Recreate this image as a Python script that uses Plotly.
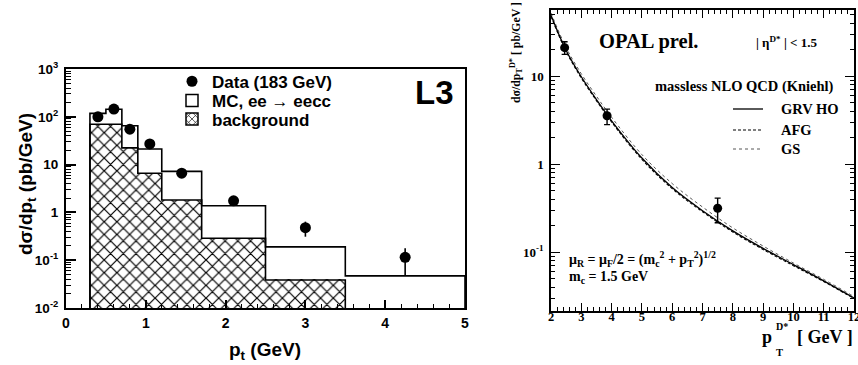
import numpy as np
import plotly.graph_objects as go

# ---------------- data: L3 panel ----------------
bin_edges = [0.3, 0.5, 0.7, 0.9, 1.2, 1.7, 2.5, 3.5, 5.0]
mc_eecc = [118, 144, 65, 21.2, 7.2, 1.38, 0.19, 0.047]          # MC, ee -> eecc (pb/GeV)
background = [70, 70, 22.4, 6.6, 1.82, 0.287, 0.0386, None]       # background (pb/GeV)
data_pt = [0.4, 0.6, 0.8, 1.05, 1.45, 2.1, 3.0, 4.25]
data_xs = [100, 145, 55, 27, 6.6, 1.75, 0.48, 0.115]
data_err_up = [8, 10, 5, 3, 0.8, 0.25, 0.16, 0.062]
data_err_dn = [8, 10, 5, 3, 0.8, 0.25, 0.17, 0.066]
left_tickvals = [0.01, 0.1, 1, 10, 100, 1000]
left_ticktext = ["10<sup>-2</sup>", "10<sup>-1</sup>", "1", "10", "10<sup>2</sup>", "10<sup>3</sup>"]

# ---------------- data: OPAL panel ----------------
opal_pt = [2.45, 3.85, 7.5]
opal_xs = [21.0, 3.54, 0.314]
opal_err_up = [3.5, 0.66, 0.096]
opal_err_dn = [3.4, 0.74, 0.099]
theory_pt = [2, 2.5, 3, 3.5, 4, 5, 6, 7, 8, 9, 10, 11, 12]
grv_ho = [49, 19.5, 9.8, 5.4, 3.1, 1.17, 0.54, 0.295, 0.174, 0.110, 0.072, 0.047, 0.030]
afg = [47.5, 19.0, 9.5, 5.25, 3.0, 1.13, 0.525, 0.287, 0.169, 0.107, 0.070, 0.0462, 0.0296]
gs = [52, 21.0, 10.6, 5.9, 3.4, 1.28, 0.60, 0.325, 0.188, 0.117, 0.075, 0.049, 0.0312]
right_xticks = [2, 3, 4, 5, 6, 7, 8, 9, 10, 11, 12]
right_tickvals = [0.1, 1, 10]
right_ticktext = ["10<sup>-1</sup>", "1", "10"]

W, H = 858, 365
SANS = "Liberation Sans, Arial, sans-serif"
SERIF = "Liberation Serif, Times New Roman, serif"
FLOOR = 1e-3   # below the visible log range, so histograms reach the axis


def px(x):
    return x / W


def py(y):
    return 1 - y / H


def step_outline(edges, values):
    """Corner points of a histogram outline, for an 'hv' line."""
    vals = [v for v in values if v is not None]
    e = list(edges[:len(vals) + 1])
    xs = [e[0]] + e[:-1] + [e[-1], e[-1]]
    ys = [FLOOR] + vals + [vals[-1], FLOOR]
    return xs, ys


edges = np.array(bin_edges)
centers = 0.5 * (edges[:-1] + edges[1:])
widths = edges[1:] - edges[:-1]

fig = go.Figure()

# MC histogram: white fill, then step outline
fig.add_trace(go.Bar(
    x=centers, y=mc_eecc, width=widths, base=FLOOR,
    marker=dict(color="white", line=dict(width=0)),
    showlegend=False, xaxis="x", yaxis="y",
))
mx, my = step_outline(bin_edges, mc_eecc)
fig.add_trace(go.Scatter(x=mx, y=my, mode="lines", line=dict(color="black", width=1.6, shape="hv"),
                         showlegend=False, hoverinfo="skip", xaxis="x", yaxis="y"))
# background histogram: cross-hatched fill, then step outline
fig.add_trace(go.Bar(
    x=centers, y=background, width=widths, base=FLOOR,
    marker=dict(color="white", line=dict(width=0),
                pattern=dict(shape="x", size=9, solidity=0.25,
                             fgcolor="black", bgcolor="white", fillmode="replace")),
    showlegend=False, xaxis="x", yaxis="y",
))
bx, by = step_outline(bin_edges, background)
fig.add_trace(go.Scatter(x=bx, y=by, mode="lines", line=dict(color="black", width=1.6, shape="hv"),
                         showlegend=False, hoverinfo="skip", xaxis="x", yaxis="y"))

# legend-only entries for the histograms
fig.add_trace(go.Bar(
    x=[None], y=[None],
    marker=dict(color="white", line=dict(color="black", width=1.5)),
    name="MC, ee \u2192 eecc", legend="legend2", xaxis="x", yaxis="y",
))
fig.add_trace(go.Bar(
    x=[None], y=[None],
    marker=dict(color="white", line=dict(color="black", width=1.5),
                pattern=dict(shape="x", size=6, solidity=0.25,
                             fgcolor="black", bgcolor="white", fillmode="replace")),
    name="background", legend="legend3", xaxis="x", yaxis="y",
))

# data points
fig.add_trace(go.Scatter(
    x=data_pt, y=data_xs, mode="markers",
    marker=dict(color="black", size=11),
    error_y=dict(type="data", symmetric=False, array=data_err_up,
                 arrayminus=data_err_dn, width=0, thickness=1.6, color="black"),
    name="Data (183 GeV)", legend="legend", xaxis="x", yaxis="y",
))

# NLO curves
fig.add_trace(go.Scatter(
    x=theory_pt, y=gs, mode="lines", line=dict(color="#444", width=0.9, dash="dot", shape="spline"),
    showlegend=False, xaxis="x2", yaxis="y2",
))
fig.add_trace(go.Scatter(
    x=theory_pt, y=afg, mode="lines", line=dict(color="black", width=1.1, dash="3px,2px", shape="spline"),
    showlegend=False, xaxis="x2", yaxis="y2",
))
fig.add_trace(go.Scatter(
    x=theory_pt, y=grv_ho, mode="lines", line=dict(color="black", width=1.3, shape="spline"),
    showlegend=False, xaxis="x2", yaxis="y2",
))
fig.add_trace(go.Scatter(
    x=opal_pt, y=opal_xs, mode="markers",
    marker=dict(color="black", size=9),
    error_y=dict(type="data", symmetric=False, array=opal_err_up,
                 arrayminus=opal_err_dn, width=3, thickness=1.4, color="black"),
    showlegend=False, xaxis="x2", yaxis="y2",
))

left_font = dict(family=SANS, size=14, color="black", weight="bold")
right_font = dict(family=SERIF, size=12.5, color="black", weight="bold")

legend_common = dict(font=dict(family=SANS, size=17, color="black", weight="bold"),
                     bgcolor="rgba(0,0,0,0)", borderwidth=0, xanchor="left",
                     yanchor="middle", itemwidth=30, tracegroupgap=0)

fig.update_layout(
    template="none",
    width=W, height=H,
    margin=dict(l=0, r=0, t=0, b=0, autoexpand=False),
    paper_bgcolor="white", plot_bgcolor="white",
    barmode="overlay", bargap=0,
    showlegend=True,
    legend=dict(x=px(172), y=py(81.7), **legend_common),
    legend2=dict(x=px(172), y=py(101), **legend_common),
    legend3=dict(x=px(172), y=py(119.4), **legend_common),
    xaxis=dict(
        domain=[px(66), px(465)], anchor="y", range=[0, 5], automargin=False,
        tick0=0, dtick=1, ticks="inside", ticklen=8, tickwidth=1.5, tickcolor="black",
        minor=dict(dtick=0.2, ticks="inside", ticklen=4, tickwidth=1, tickcolor="black", showgrid=False),
        showline=True, linewidth=2, linecolor="black", mirror=True,
        showgrid=False, zeroline=False, tickfont=left_font, ticklabelstandoff=1,
    ),
    yaxis=dict(
        domain=[py(308), py(69)], anchor="x", type="log", range=[-2, 3], automargin=False,
        tickmode="array", tickvals=left_tickvals, ticktext=left_ticktext,
        ticks="inside", ticklen=10, tickwidth=1.5, tickcolor="black",
        minor=dict(dtick="D1", ticks="inside", ticklen=5, tickwidth=1, tickcolor="black", showgrid=False),
        showline=True, linewidth=2, linecolor="black", mirror=True,
        showgrid=False, zeroline=False, tickfont=dict(left_font, size=13.5), ticklabelstandoff=3,
    ),
    xaxis2=dict(
        domain=[px(551), px(854)], anchor="y2", range=[2, 12], automargin=False,
        tickmode="array", tickvals=right_xticks, ticktext=[str(v) for v in right_xticks],
        ticks="inside", ticklen=8, tickwidth=1.2, tickcolor="black",
        minor=dict(tick0=2, dtick=0.2, ticks="inside", ticklen=4, tickwidth=1, tickcolor="black", showgrid=False),
        showline=True, linewidth=1.5, linecolor="black", mirror="allticks",
        showgrid=False, zeroline=False, tickfont=right_font, ticklabelstandoff=-7,
        ticklabeloverflow="allow",
    ),
    yaxis2=dict(
        domain=[py(311), py(10)], anchor="x2", type="log", range=[-1.67, 1.75], automargin=False,
        tickmode="array", tickvals=right_tickvals, ticktext=right_ticktext,
        ticks="inside", ticklen=9, tickwidth=1.2, tickcolor="black",
        minor=dict(dtick="D1", ticks="inside", ticklen=4, tickwidth=1, tickcolor="black", showgrid=False),
        showline=True, linewidth=1.5, linecolor="black", mirror="allticks",
        showgrid=False, zeroline=False, tickfont=dict(right_font, size=13), ticklabelstandoff=3,
    ),
)

ann = []
# L3 panel labels
ann.append(dict(x=px(434), y=py(92), text="L3", font=dict(family=SANS, size=33, color="black", weight="bold")))
ann.append(dict(x=px(265), y=py(351), text="p<sub>t</sub> (GeV)", font=dict(family=SANS, size=19, color="black", weight="bold")))
ann.append(dict(x=px(27), y=py(184), text="d\u03c3/dp<sub>t</sub> (pb/GeV)", textangle=-90,
                font=dict(family=SANS, size=19, color="black", weight="bold")))

# OPAL panel labels
serif_b = lambda s: dict(family=SERIF, size=s, color="black", weight="bold")
ann.append(dict(x=px(648), y=py(42), text="OPAL prel.", font=serif_b(20.5)))
ann.append(dict(x=px(786), y=py(42), text="| \u03b7<sup>D*</sup> | < 1.5", font=serif_b(13)))
ann.append(dict(x=px(836), y=py(86), text="massless NLO QCD (Kniehl)", xanchor="right", font=serif_b(14.5)))
for label, yy in [("GRV HO", 109), ("AFG", 130), ("GS", 149)]:
    ann.append(dict(x=px(779), y=py(yy), text=label, xanchor="left", font=serif_b(14.5)))
ann.append(dict(x=px(567), y=py(259),
                text="\u03bc<sub>R</sub> = \u03bc<sub>F</sub>/2 = (m<sub>c</sub><sup>2</sup> + p<sub>T</sub><sup>2</sup>)<sup>1/2</sup>",
                xanchor="left", font=serif_b(14)))
ann.append(dict(x=px(567), y=py(277), text="m<sub>c</sub> = 1.5 GeV", xanchor="left", font=serif_b(14)))
# x title of the OPAL panel, with the D* superscript stacked over the T subscript
ann.append(dict(x=px(855), y=py(337), text="[ GeV ]", xanchor="right", font=serif_b(18)))
ann.append(dict(x=px(774), y=py(337), text="p", xanchor="right", font=serif_b(18)))
ann.append(dict(x=px(774), y=py(352), text="T", xanchor="left", font=serif_b(10.5)))
ann.append(dict(x=px(774), y=py(326), text="D*", xanchor="left", font=serif_b(10)))
ann.append(dict(x=px(516), y=py(53), text="d\u03c3/dp<sub>T</sub><sup>D*</sup> [ pb/GeV ]", textangle=-90,
                font=serif_b(11.8)))

for a in ann:
    a.setdefault("xref", "paper")
    a.setdefault("yref", "paper")
    a.setdefault("xanchor", "center")
    a.setdefault("yanchor", "middle")
    a.setdefault("showarrow", False)
fig.update_layout(annotations=ann)

# legend line samples for the NLO curves
shapes = []
for yy, dash, col, w in [(109, "solid", "black", 1.3), (130, "3px,2px", "black", 1.1), (149, "dot", "#444", 0.9)]:
    shapes.append(dict(type="line", xref="paper", yref="paper", x0=px(733), x1=px(763),
                       y0=py(yy), y1=py(yy), line=dict(color=col, width=w, dash=dash)))
fig.update_layout(shapes=shapes)

fig.write_html("out.html")
